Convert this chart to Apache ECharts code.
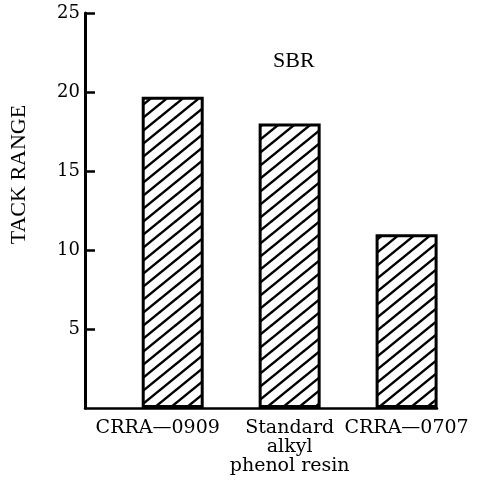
<!DOCTYPE html>
<html>
<head>
<meta charset="utf-8">
<script src="https://cdn.jsdelivr.net/npm/echarts@6/dist/echarts.min.js"></script>
<style>
html,body{margin:0;padding:0;background:#fff;}
#chart{width:488px;height:487px;}
</style>
</head>
<body>
<div id="chart"></div>
<script>
// ---- data ----
const categories = ['CRRA\u20140909', 'Standard\nalkyl\nphenol resin', 'CRRA\u20140707'];
const positions = [1, 2, 3];
const tackRange = [19.7, 18.0, 11.0];
const yTicks = [0, 5, 10, 15, 20, 25];
const chartTitle = 'SBR';
const yAxisTitle = 'TACK RANGE';

// ---- hatch pattern ----
function makeHatch() {
  const w = 16, h = 13;
  const c = document.createElement('canvas');
  c.width = w; c.height = h;
  const g = c.getContext('2d');
  g.fillStyle = '#fff';
  g.fillRect(0, 0, w, h);
  g.strokeStyle = '#000';
  g.lineWidth = 2.4;
  g.beginPath();
  [[0, 0], [w, 0], [-w, 0], [0, h], [0, -h]].forEach(function (o) {
    g.moveTo(o[0], h + o[1]);
    g.lineTo(w + o[0], o[1]);
  });
  g.stroke();
  return c;
}

const chart = echarts.init(document.getElementById('chart'), null, {renderer: 'canvas'});
const serif = 'DejaVu Serif';
const option = {
  backgroundColor: '#fff',
  animation: false,
  title: {
    text: chartTitle,
    left: 268,
    top: 45,
    textStyle: {fontFamily: 'Liberation Serif', fontSize: 22, fontWeight: 'normal', color: '#000'}
  },
  grid: {left: 85, right: 51, top: 13, bottom: 79, containLabel: false, outerBoundsMode: 'none'},
  xAxis: {
    type: 'value',
    min: 0.25,
    max: 3.26,
    splitLine: {show: false},
    axisTick: {show: false},
    axisLabel: {show: false},
    axisLine: {show: true, onZero: false, lineStyle: {color: '#000', width: 2.5}}
  },
  yAxis: {
    type: 'value',
    min: yTicks[0],
    max: yTicks[yTicks.length - 1],
    interval: 5,
    name: yAxisTitle,
    nameLocation: 'middle',
    nameRotate: 90,
    nameGap: 55,
    nameTextStyle: {fontFamily: 'Liberation Serif', fontSize: 22, color: '#000', padding: [0, 0, 0, 72]},
    splitLine: {show: false},
    axisLine: {show: true, lineStyle: {color: '#000', width: 3}},
    axisTick: {show: true, inside: true, length: 10, lineStyle: {color: '#000', width: 2.5}},
    axisLabel: {
      showMinLabel: false,
      margin: 5,
      color: '#000',
      fontFamily: serif,
      fontSize: 18
    }
  },
  series: [{
    type: 'bar',
    barWidth: 62,
    data: positions.map((p, i) => [p, tackRange[i]]),
    itemStyle: {
      color: {image: makeHatch(), repeat: 'repeat'},
      borderColor: '#000',
      borderWidth: 3
    },
    label: {
      show: true,
      position: 'bottom',
      distance: 11,
      color: '#000',
      fontFamily: serif,
      fontSize: 19,
      lineHeight: 19,
      formatter: function (p) {
        const t = categories[p.dataIndex];
        return p.dataIndex === 0 ? '{a|' + t + '}' : t;
      },
      rich: {
        a: {fontFamily: serif, fontSize: 19, lineHeight: 19, color: '#000', padding: [0, 30, 0, 0]}
      }
    },
    labelLayout: {hideOverlap: false}
  }]
};
chart.setOption(option);
</script>
</body>
</html>
